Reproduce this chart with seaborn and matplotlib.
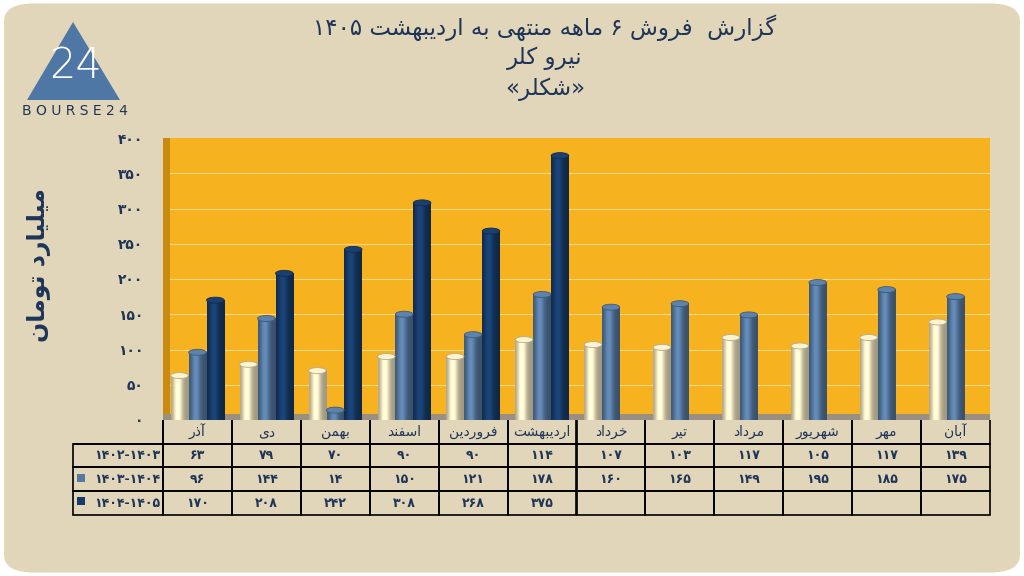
import re
import numpy as np
import pandas as pd
import matplotlib
matplotlib.use("Agg")
import matplotlib.pyplot as plt
import matplotlib.colors as mcolors
from matplotlib.patches import Polygon, FancyBboxPatch, Rectangle, Ellipse
import seaborn as sns

# ---------------- data ----------------
months = ["آذر", "دی", "بهمن", "اسفند", "فروردین", "اردیبهشت",
          "خرداد", "تیر", "مرداد", "شهریور", "مهر", "آبان"]
series_names = ["1402-1403", "1403-1404", "1404-1405"]
s_1402 = [63, 79, 70, 90, 90, 114, 107, 103, 117, 105, 117, 139]
s_1403 = [96, 144, 14, 150, 121, 178, 160, 165, 149, 195, 185, 175]
s_1404 = [170, 208, 242, 308, 268, 375, None, None, None, None, None, None]
yticks = [0, 50, 100, 150, 200, 250, 300, 350, 400]
title_lines = ["گزارش  فروش ۶ ماهه منتهی به اردیبهشت ۱۴۰۵", "نیرو کلر", "«شکلر»"]
ylabel = "میلیارد تومان"

# ---------------- helpers: persian shaping ----------------
FORMS = {
    'ا': (0xFE8D, 0xFE8E, None, None), 'آ': (0xFE81, 0xFE82, None, None),
    'ب': (0xFE8F, 0xFE90, 0xFE91, 0xFE92), 'ت': (0xFE95, 0xFE96, 0xFE97, 0xFE98),
    'خ': (0xFEA5, 0xFEA6, 0xFEA7, 0xFEA8), 'د': (0xFEA9, 0xFEAA, None, None),
    'ذ': (0xFEAB, 0xFEAC, None, None), 'ر': (0xFEAD, 0xFEAE, None, None),
    'ز': (0xFEAF, 0xFEB0, None, None), 'س': (0xFEB1, 0xFEB2, 0xFEB3, 0xFEB4),
    'ش': (0xFEB5, 0xFEB6, 0xFEB7, 0xFEB8), 'ف': (0xFED1, 0xFED2, 0xFED3, 0xFED4),
    'ل': (0xFEDD, 0xFEDE, 0xFEDF, 0xFEE0), 'م': (0xFEE1, 0xFEE2, 0xFEE3, 0xFEE4),
    'ن': (0xFEE5, 0xFEE6, 0xFEE7, 0xFEE8), 'ه': (0xFEE9, 0xFEEA, 0xFEEB, 0xFEEC),
    'و': (0xFEED, 0xFEEE, None, None), 'ی': (0xFBFC, 0xFBFD, 0xFBFE, 0xFBFF),
    'ک': (0xFB8E, 0xFB8F, 0xFB90, 0xFB91), 'گ': (0xFB92, 0xFB93, 0xFB94, 0xFB95),
}


def shape(text):
    out = []
    n = len(text)
    for i, ch in enumerate(text):
        if ch not in FORMS:
            out.append(ch)
            continue
        iso, fin, ini, med = FORMS[ch]
        prev = text[i - 1] if i > 0 else ''
        nxt = text[i + 1] if i < n - 1 else ''
        pj = prev in FORMS and FORMS[prev][2] is not None
        nj = nxt in FORMS and ini is not None
        if pj and nj:
            out.append(chr(med))
        elif pj:
            out.append(chr(fin))
        elif nj:
            out.append(chr(ini))
        else:
            out.append(chr(iso))
    s = ''.join(out)[::-1]
    s = re.sub(r'[0-9۰-۹]+', lambda m: m.group(0)[::-1], s)
    s = s.translate(str.maketrans({'«': '»', '»': '«'}))
    return s


def fa(x):
    return str(x).translate(str.maketrans('0123456789', '۰۱۲۳۴۵۶۷۸۹'))


# ---------------- styling ----------------
BG = "#E2D6BA"
ORANGE = "#F6B21F"
NAVY = "#1E3558"
COLORS = ["#EDE2BE", "#56789F", "#173B69"]

sns.set_theme(style="white")
plt.rcParams['font.family'] = ['DejaVu Sans']

fig = plt.figure(figsize=(10.24, 5.76), dpi=100, facecolor="white")
fig.add_artist(FancyBboxPatch((0.004, 0.006), 0.992, 0.988, boxstyle="round,pad=0,rounding_size=0.03",
                              transform=fig.transFigure, facecolor=BG, edgecolor="none", zorder=0))

L, R, B, T = 163 / 1024, 990 / 1024, 1 - 420 / 576, 1 - 138 / 576
ax = fig.add_axes([L, B, R - L, T - B])
ax.set_facecolor(ORANGE)

df = pd.DataFrame({
    "month": months * 3,
    "series": sum([[s] * len(months) for s in series_names], []),
    "value": s_1402 + s_1403 + s_1404,
})
df["value"] = df["value"].astype(float)

sns.barplot(data=df, x="month", y="value", hue="series", order=months, hue_order=series_names,
            palette=COLORS, saturation=1, width=0.78, ax=ax, legend=False, zorder=3)
bars = list(ax.patches)

ax.set_ylim(0, 400)
ax.set_xlim(-0.5, len(months) - 0.5)
ax.set_yticks(yticks)
ax.set_yticklabels([fa(v) for v in yticks], fontsize=10, fontweight="bold", color=NAVY)
ax.tick_params(axis="y", length=0, pad=14)
ax.set_xticks([])
ax.set_xlabel("")
ax.set_ylabel(shape(ylabel), fontsize=17, fontweight="bold", color=NAVY)
ax.yaxis.set_label_coords(-0.135, 0.55)
for y in yticks[1:-1]:
    ax.axhline(y, color="#FFE3A0", lw=0.8, alpha=0.8, zorder=1)
for sp in ax.spines.values():
    sp.set_visible(False)
# 3D-ish wall and floor
ax.add_patch(Rectangle((0, 0), 0.008, 1, transform=ax.transAxes, color="#C98A10", zorder=2, lw=0))
ax.add_patch(Rectangle((0, 0), 1, 0.02, transform=ax.transAxes, color="#9A8F80", zorder=2, lw=0))

# cylinder shading
t = np.linspace(0, 1, 60)
fac = 0.68 + 0.5 * np.exp(-((t - 0.38) / 0.26) ** 2)
ell_h = 400 / 282 * 6
for p in bars:
    h = p.get_height()
    if not np.isfinite(h) or h <= 0:
        continue
    x0, w = p.get_x(), p.get_width()
    c = np.array(mcolors.to_rgb(p.get_facecolor()))
    img = np.clip(c[None, None, :] * fac[None, :, None], 0, 1)
    ax.imshow(img, extent=[x0 + w * 0.01, x0 + w * 0.99, 0, h], aspect="auto", zorder=4,
              interpolation="bilinear")
    p.set_visible(False)
    ax.add_patch(Ellipse((x0 + w / 2, h), w * 0.98, ell_h, facecolor=np.clip(c * 1.08, 0, 1),
                         edgecolor=np.clip(c * 0.75, 0, 1), lw=0.6, zorder=5))
ax.set_ylim(0, 400)
ax.set_xlim(-0.5, len(months) - 0.5)
ax.set_aspect("auto")

# ---------------- table ----------------
all_series = [s_1402, s_1403, s_1404]
cell_text = [[""] + [shape(m) for m in months]]
for name, vals in zip(series_names, all_series):
    cell_text.append([fa(name)] + [fa(v) if v is not None else "" for v in vals])
label_w = 90
col_w = 827 / 12
tot = label_w + 827
tbl = ax.table(cellText=cell_text, colWidths=[label_w / tot] + [col_w / tot] * 12,
               bbox=[(73 - 163) / 827, -95 / 282, (990 - 73) / 827, 95 / 282], cellLoc="center")
tbl.auto_set_font_size(False)
for (r, c), cell in tbl.get_celld().items():
    cell.set_facecolor("none")
    cell.set_edgecolor("black")
    cell.set_linewidth(1.2)
    txt = cell.get_text()
    txt.set_color(NAVY)
    if r == 0:
        txt.set_fontsize(10)
        cell.visible_edges = "BR" if c == 0 else "BLR"
    else:
        txt.set_fontsize(9)
        txt.set_fontweight("bold")
    if c == 0 and r > 0:
        txt.set_ha("right")
        cell._loc = "right"
        cell.PAD = 0.03

# legend squares in the label column
for r, col in zip([1, 2], COLORS[1:]):
    yc = [478, 501][r - 1]
    fig.add_artist(Rectangle((77 / 1024, 1 - (yc + 4) / 576), 8 / 1024, 8 / 576,
                             transform=fig.transFigure, facecolor=col, edgecolor="none"))

# ---------------- titles ----------------
for i, line in enumerate(title_lines):
    fig.text(545 / 1024, 1 - [28, 58, 89][i] / 576, shape(line), ha="center", va="center",
             fontsize=16.5, color=NAVY)

# ---------------- logo ----------------
fig.add_artist(Polygon([(27 / 1024, 1 - 100 / 576), (120 / 1024, 1 - 100 / 576), (73 / 1024, 1 - 22 / 576)],
                       closed=True, transform=fig.transFigure, facecolor="#4E77A6", edgecolor="none"))
fig.text(76 / 1024, 1 - 65 / 576, "24", ha="center", va="center", fontsize=30, color="white",
         fontweight="light")
fig.text(75 / 1024, 1 - 111 / 576, "B O U R S E 2 4", ha="center", va="center", fontsize=10,
         color=NAVY)

fig.savefig("out.png", dpi=100, facecolor=fig.get_facecolor())
